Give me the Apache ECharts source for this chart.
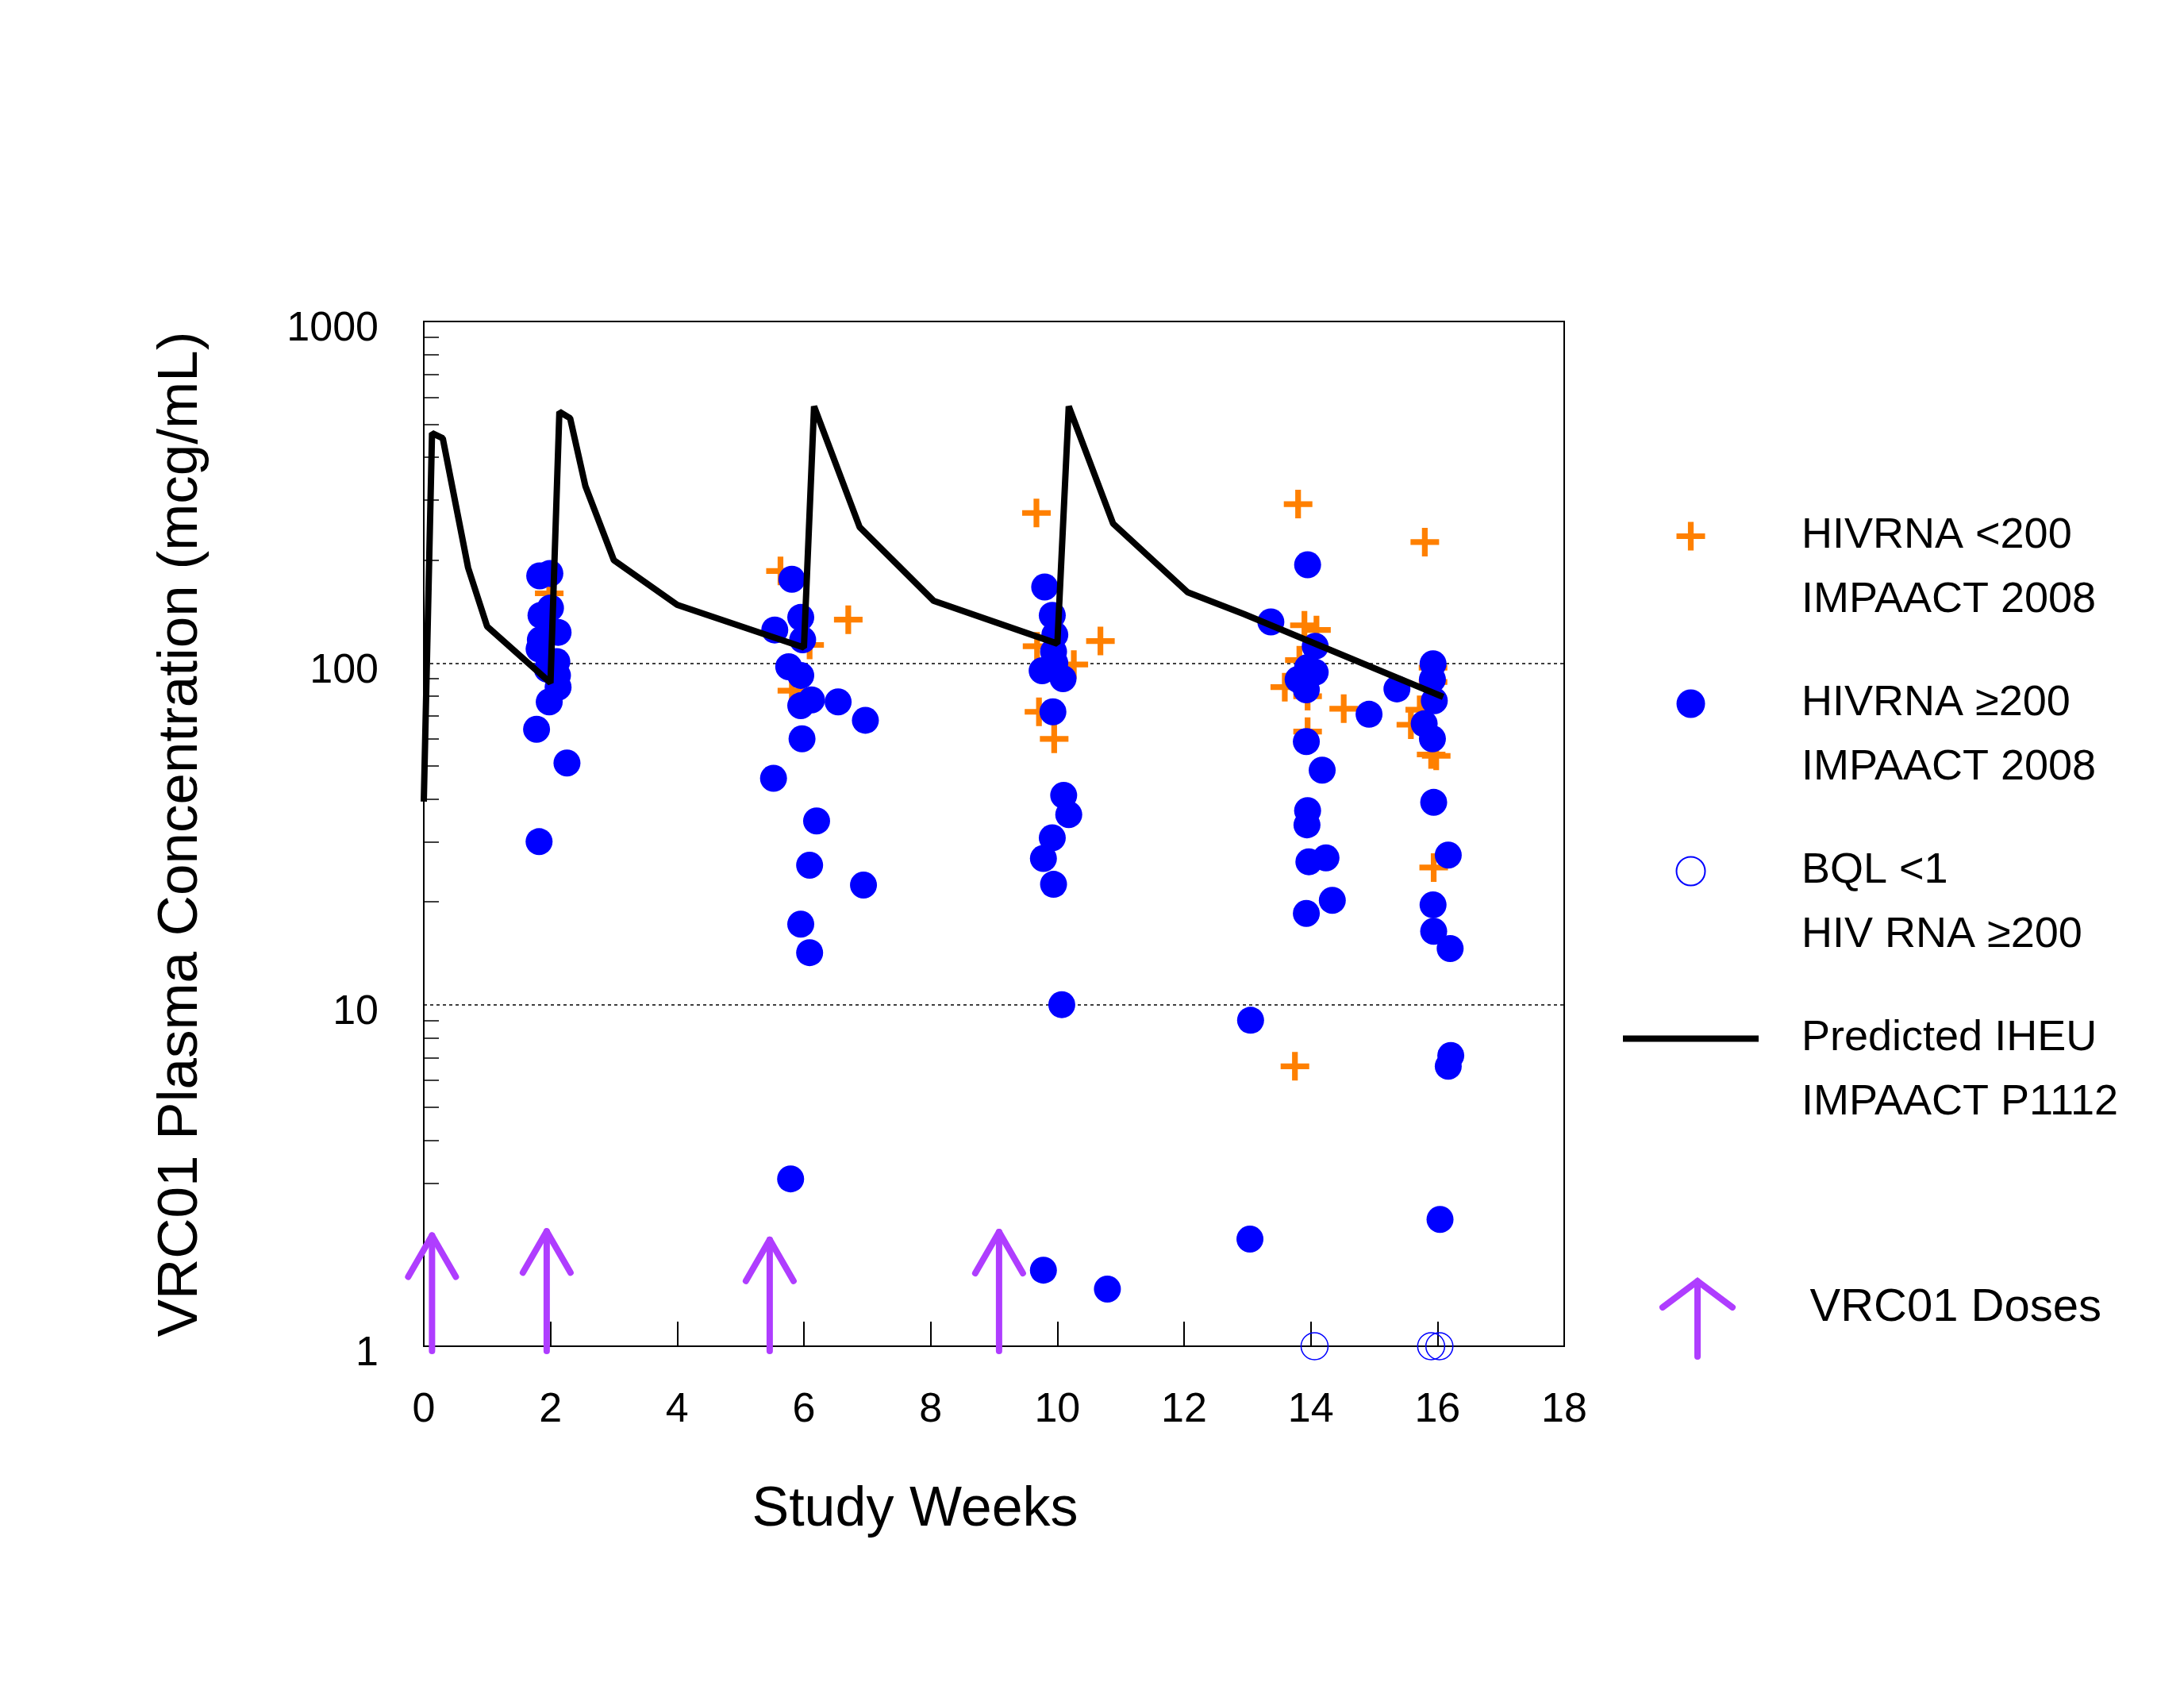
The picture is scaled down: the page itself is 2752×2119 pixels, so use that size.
<!DOCTYPE html>
<html>
<head>
<meta charset="utf-8">
<script src="https://cdn.jsdelivr.net/npm/echarts@6/dist/echarts.min.js"></script>
<style>
  html, body { margin: 0; padding: 0; background: #fff; }
  #chart { width: 2752px; height: 2119px; }
</style>
</head>
<body>
<div id="chart"></div>
<script>
// HIVRNA <200 (orange plus)
const lt200Weeks = [1.98, 5.63, 6.09, 5.81, 6.70, 9.67, 9.68, 10.26, 10.68, 9.71, 9.95,
  13.80, 13.90, 14.09, 13.82, 13.95, 13.59, 14.52, 13.95, 13.75,
  15.80, 15.93, 15.93, 15.72, 15.58, 15.90, 15.98, 15.94];
const lt200Conc = [160, 186, 113, 83, 134, 275, 112, 99, 116, 72, 60,
  292, 129, 125, 102, 80, 85, 73.5, 63, 6.6,
  226, 97, 88, 73, 66, 54, 53.5, 25.2];

// HIVRNA >=200 (blue dot)
const ge200Weeks = [1.83, 1.99, 1.85, 2.00, 2.12, 1.84, 1.82, 2.10, 1.95, 2.11, 2.12, 1.98, 1.78, 2.26, 1.82,
  5.81, 5.95, 5.54, 5.98, 5.76, 5.95, 5.95, 6.12, 6.54, 6.97, 5.97, 5.52, 6.20, 6.09, 6.94, 5.95, 6.09, 5.79,
  9.80, 9.92, 9.96, 9.94, 9.76, 9.96, 10.09, 9.93, 10.10, 10.18, 9.92, 9.78, 9.94, 10.07, 9.78, 10.79,
  13.37, 13.95, 14.07, 13.95, 14.07, 13.80, 13.93, 14.92, 15.36, 13.93, 14.18, 13.95, 13.94, 13.97, 14.24,
  13.93, 14.34, 13.05, 13.04,
  15.93, 15.92, 15.95, 15.79, 15.92, 15.94, 16.17, 15.93, 15.94, 16.20, 16.21, 16.17, 16.04];
const ge200Conc = [180, 183, 138, 145, 123, 117, 110, 101, 96, 92, 85, 77, 64, 51, 30,
  176, 136, 125, 117, 97.5, 92, 75, 78, 77, 68, 60, 46, 34.5, 25.6, 22.4, 17.2, 14.2, 3.09,
  167, 138, 121, 108, 95, 100, 90, 72, 41, 36, 30.8, 26.8, 22.5, 10, 1.67, 1.47,
  132, 194, 112, 97, 94, 89.5, 83.5, 70.8, 84, 58.9, 48.6, 37, 33.6, 26.2, 26.9,
  18.5, 20.2, 9.0, 2.06,
  99.5, 89.5, 77.6, 66.4, 60, 39.1, 27.4, 19.6, 16.4, 14.6, 7.1, 6.6, 2.35];

// BQL <1 (open circle)
const bqlWeeks = [14.06, 15.90, 16.03];
const bqlConc = [1, 1, 1];

// Predicted IHEU, IMPAACT P1112
const predWeeks = [0, 0.13, 0.30, 0.70, 1.0, 2.0, 2.14, 2.31, 2.55, 3.0, 4.0, 6.0, 6.16, 6.88, 8.05,
  10.0, 10.18, 10.88, 12.06, 12.95, 16.09];
const predConc = [39.3, 471, 455, 190, 128, 87.5, 544, 521, 330, 200, 148, 111, 564, 250, 152,
  114, 564, 256, 161, 139, 79.6];

// VRC01 doses (arrow position and arrow tip height)
const doseWeeks = [0.13, 1.94, 5.46, 9.08];
const doseTip = [2.11, 2.17, 2.05, 2.16];

const yMinorTicks = [2, 3, 4, 5, 6, 7, 8, 9, 20, 30, 40, 50, 60, 70, 80, 90, 200, 300, 400, 500, 600, 700, 800, 900];

const FONT = '"Liberation Sans", Arial, sans-serif';
const ORANGE = '#FF8000';
const BLUE = '#0000FF';
const PURPLE = '#AF3DFF';
const PLUS = 'path://M0,8L8,8L8,0L12,0L12,8L20,8L20,12L12,12L12,20L8,20L8,12L0,12Z';

const zip = (xs, ys) => xs.map((x, i) => [x, ys[i]]);

const NAME_LT = 'HIVRNA <200\nIMPAACT 2008';
const NAME_GE = 'HIVRNA ≥200\nIMPAACT 2008';
const NAME_BQL = 'BQL <1\nHIV RNA ≥200';
const NAME_PRED = 'Predicted IHEU\nIMPAACT P1112';
const NAME_DOSE = 'VRC01 Doses';

const chart = echarts.init(document.getElementById('chart'));

const option = {
  animation: false,
  backgroundColor: '#fff',
  textStyle: { fontFamily: FONT },
  grid: {
    left: 534, right: 781, top: 405, bottom: 423,
    show: true, borderColor: '#000', borderWidth: 2, backgroundColor: 'transparent'
  },
  xAxis: {
    type: 'value', min: 0, max: 18, interval: 2,
    axisLine: { lineStyle: { color: '#000', width: 2 } },
    axisTick: { inside: true, length: 31, lineStyle: { color: '#000', width: 2 } },
    axisLabel: { fontSize: 52, color: '#000', margin: 55, fontFamily: FONT },
    splitLine: { show: false }
  },
  yAxis: [{
    type: 'log', logBase: 10, min: 1, max: 1000,
    axisLine: { show: true, lineStyle: { color: '#000', width: 2 } },
    axisTick: { show: false },
    axisLabel: { fontSize: 52, color: '#000', margin: 57, fontFamily: FONT,
      verticalAlign: 'top', lineHeight: 20, formatter: v => String(v) },
    splitLine: { show: true, lineStyle: { color: '#000', width: 1.5, type: [4, 4] } },
    minorTick: { show: false }
  }, {
    type: 'log', logBase: 10, min: 1, max: 1000, position: 'left',
    axisLine: { show: false },
    axisTick: { show: true, inside: true, length: 19, customValues: yMinorTicks,
      lineStyle: { color: '#000', width: 1.5 } },
    axisLabel: { show: false },
    splitLine: { show: false }
  }],
  legend: [{
    orient: 'vertical', left: 2036, top: 549,
    itemWidth: 171, itemHeight: 36, itemGap: -32,
    symbolKeepAspect: true, selectedMode: false,
    data: [NAME_LT, NAME_GE, NAME_BQL, { name: NAME_PRED, itemStyle: { opacity: 0 } }],
    formatter: name => '\n' + name,
    lineStyle: { width: 8 },
    textStyle: { fontSize: 54, lineHeight: 81, color: '#000', fontFamily: FONT, padding: [0, 0, 0, 49] }
  }, {
    orient: 'vertical', left: 2086, top: 1605,
    itemWidth: 171, itemHeight: 95,
    symbolKeepAspect: true, selectedMode: false,
    data: [{
      name: NAME_DOSE,
      icon: 'path://M0,33L44,0L88,33M44,0L44,95',
      itemStyle: { color: 'none', borderColor: PURPLE, borderWidth: 8, borderCap: 'round' }
    }],
    formatter: name => name + '\n',
    textStyle: { fontSize: 58, lineHeight: 28, color: '#000', fontFamily: FONT, padding: [0, 0, 0, 51] }
  }],
  graphic: [{
    type: 'text', x: 1153, y: 1903,
    style: { text: 'Study Weeks', font: '70px ' + FONT, fill: '#000', textAlign: 'center', textVerticalAlign: 'middle' }
  }, {
    type: 'text', x: 228, y: 1051, rotation: Math.PI / 2,
    style: { text: 'VRC01 Plasma Concentration (mcg/mL)', font: '71px ' + FONT, fill: '#000', textAlign: 'center', textVerticalAlign: 'middle' }
  }],
  series: [{
    name: NAME_LT, type: 'scatter', yAxisIndex: 0,
    symbol: PLUS, symbolSize: 36,
    itemStyle: { color: ORANGE, opacity: 1 },
    data: zip(lt200Weeks, lt200Conc)
  }, {
    name: NAME_GE, type: 'scatter', yAxisIndex: 0,
    symbol: 'circle', symbolSize: 34,
    itemStyle: { color: BLUE, opacity: 1 },
    data: zip(ge200Weeks, ge200Conc)
  }, {
    name: NAME_BQL, type: 'scatter', yAxisIndex: 0,
    symbol: 'circle', symbolSize: 34, clip: false,
    itemStyle: { color: 'none', borderColor: BLUE, borderWidth: 1.5, opacity: 1 },
    data: zip(bqlWeeks, bqlConc)
  }, {
    name: NAME_PRED, type: 'line', yAxisIndex: 0,
    symbol: 'none', showSymbol: false,
    lineStyle: { color: '#000', width: 8 },
    itemStyle: { color: '#000' },
    data: zip(predWeeks, predConc)
  }, {
    name: NAME_DOSE, type: 'custom', yAxisIndex: 0, clip: false,
    itemStyle: { color: PURPLE },
    data: zip(doseWeeks, doseTip),
    renderItem: function (params, api) {
      const base = api.coord([api.value(0), 1]);
      const tip = api.coord([api.value(0), api.value(1)]);
      const st = { stroke: PURPLE, lineWidth: 8, lineCap: 'round', lineJoin: 'round', fill: null };
      return {
        type: 'group',
        children: [{
          type: 'line',
          shape: { x1: base[0], y1: base[1] + 6, x2: tip[0], y2: tip[1] },
          style: st
        }, {
          type: 'polyline',
          shape: { points: [[tip[0] - 30, tip[1] + 52], [tip[0], tip[1]], [tip[0] + 30, tip[1] + 52]] },
          style: st
        }]
      };
    }
  }]
};

chart.setOption(option);
</script>
</body>
</html>
